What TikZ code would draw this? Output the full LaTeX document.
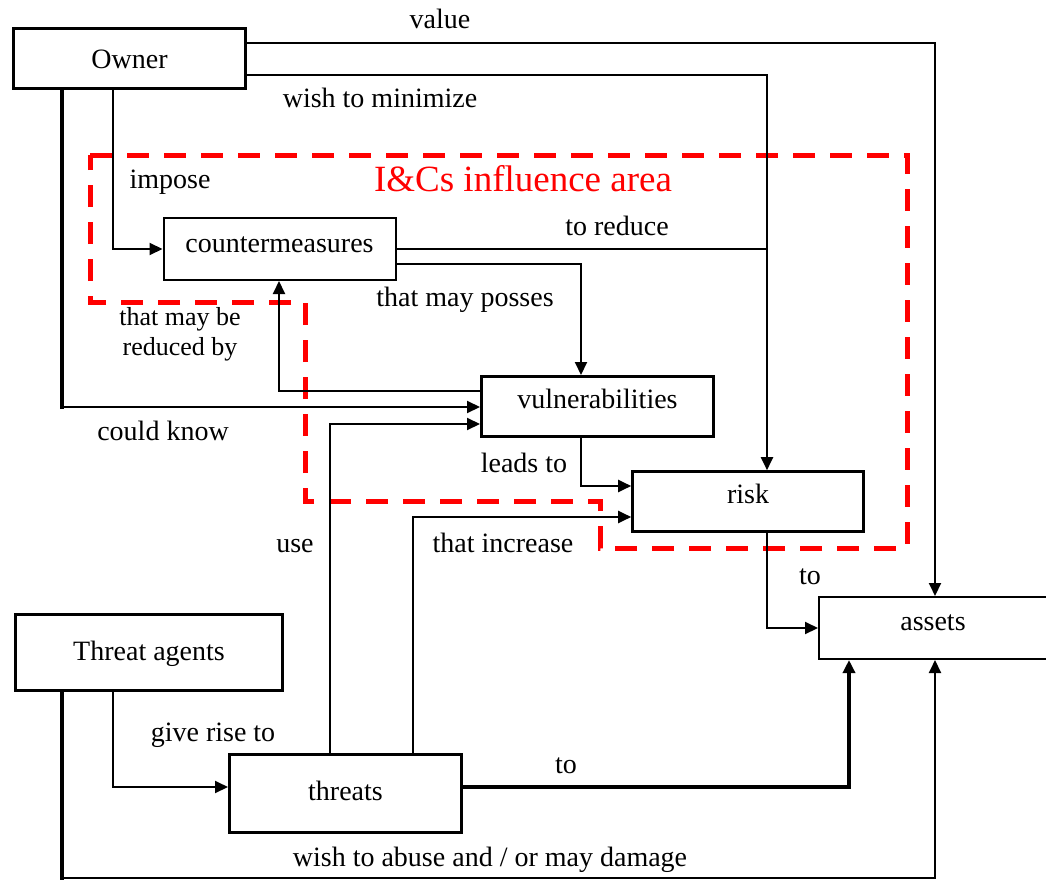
\documentclass[tikz,border=0pt]{standalone}
\usepackage{fontspec}
\setmainfont{Liberation Serif}
\usetikzlibrary{arrows.meta,calc}

\begin{document}
\begin{tikzpicture}[
  x=1pt, y=-1pt,
  box/.style={draw, line width=3pt, minimum width=232pt, minimum height=60pt,
              inner sep=0pt, font=\fontsize{28}{34}\selectfont,
              text height=19pt, text depth=6pt},
  thinbox/.style={box, line width=2pt},
  arrow/.style={-{Triangle[length=13pt,width=12pt]}, line width=2pt},
  link/.style={line width=2pt},
  heavy/.style={line width=3.3pt, line cap=rect},
  lbl/.style={inner sep=0pt, font=\fontsize{28}{34}\selectfont,
              text height=19pt, text depth=6pt, yshift=-2.5pt},
  note/.style={inner sep=0pt, align=center, font=\fontsize{26}{30}\selectfont}
]
\useasboundingbox (0,0) rectangle (1046,880);
\clip (0,0) rectangle (1046,880);

% boxes
\node[box, text height=26pt] (owner) at (129.5,59) {Owner};
\node[thinbox, minimum height=62pt, text depth=13pt] (cm) at (279.5,249) {countermeasures};
\node[box, text depth=16pt] (vuln) at (597.5,406.5) {vulnerabilities};
\node[box, line width=2.6pt, minimum width=231pt, text depth=16pt] (risk) at (748,501.5) {risk};
\node[thinbox, minimum width=228pt, minimum height=62pt, text depth=15pt] (assets) at (933,628) {assets};
\node[box, minimum width=267pt, minimum height=76pt, text height=21pt] (ta) at (149,652.5) {Threat agents};
\node[box, minimum height=78pt] (threats) at (345.5,793.5) {threats};

% influence area
\draw[red, line width=5pt, dash pattern=on 22pt off 15pt]
  (90,155) -- (907,155) -- (907,548) -- (600,548) -- (600,501)
  -- (305,501) -- (305,302) -- (90,302) -- cycle;
\node[lbl, text=red, font=\fontsize{37}{44}\selectfont, text height=26pt, text depth=8pt]
  (areaLbl) at (523,180) {I\&Cs influence area};

% turning points
\coordinate (valueTurn) at (935,43);
\coordinate (minTurn) at (767,75);
\coordinate (imposeDrop) at (113,0);
\coordinate (knowTurn) at (62,407);
\coordinate (possesTurn) at (581,264);
\coordinate (reduceTurn) at (279,391);
\coordinate (useTurn) at (330,424);
\coordinate (leadsTurn) at (581,486);
\coordinate (increaseTurn) at (413,517);
\coordinate (riskTurn) at (767,628);
\coordinate (riseTurn) at (113,787);
\coordinate (damageTurn) at (849,787);
\coordinate (abuseCorner) at (62,878);
\coordinate (abuseTurn) at (935,878);

% connectors
\draw[arrow] (owner.east |- valueTurn) -- (valueTurn) -- (assets.north -| valueTurn);
\draw[arrow] (owner.east |- minTurn) -| (risk.north -| minTurn);
\draw[arrow] (owner.south -| imposeDrop) |- (cm.west);
\draw[heavy] (owner.south -| knowTurn) -- (knowTurn);
\draw[arrow] (knowTurn) -- (vuln.west |- knowTurn);
\draw[link] (cm.east) -- (cm.east -| minTurn);
\draw[arrow] (cm.east |- possesTurn) -| (vuln.north -| possesTurn);
\draw[arrow] (vuln.west |- reduceTurn) -| (cm.south -| reduceTurn);
\draw[arrow] (threats.north -| useTurn) |- (vuln.west |- useTurn);
\draw[arrow] (vuln.south -| leadsTurn) |- (risk.west |- leadsTurn);
\draw[arrow] (threats.north -| increaseTurn) |- (risk.west |- increaseTurn);
\draw[arrow] (risk.south -| riskTurn) |- (assets.west);
\draw[arrow] (ta.south -| riseTurn) |- (threats.west |- riseTurn);
\draw[arrow, heavy, line cap=butt] (threats.east |- damageTurn) -| (assets.south -| damageTurn);
\draw[heavy] (ta.south -| abuseCorner) -- (abuseCorner);
\draw[arrow] (abuseCorner) -| (assets.south -| abuseTurn);

% labels
\node[lbl] (valueLbl) at (440,20) {value};
\node[lbl] (minLbl) at (380,99) {wish to minimize};
\node[lbl] (imposeLbl) at (170,179) {impose};
\node[lbl] (reduceLbl) at (617,226) {to reduce};
\node[lbl] (possesLbl) at (465,297) {that may posses};
\node[note] (reducedLbl) at (180,334) {that may be\\reduced by};
\node[lbl] (knowLbl) at (163,431) {could know};
\node[lbl] (leadsLbl) at (524,463) {leads to};
\node[lbl] (useLbl) at (295,543) {use};
\node[lbl] (increaseLbl) at (503,543) {that increase};
\node[lbl] (riskToLbl) at (810,575) {to};
\node[lbl] (riseLbl) at (213,732) {give rise to};
\node[lbl] (threatToLbl) at (566,764) {to};
\node[lbl] (abuseLbl) at (490,857) {wish to abuse and / or may damage};
\end{tikzpicture}
\end{document}
